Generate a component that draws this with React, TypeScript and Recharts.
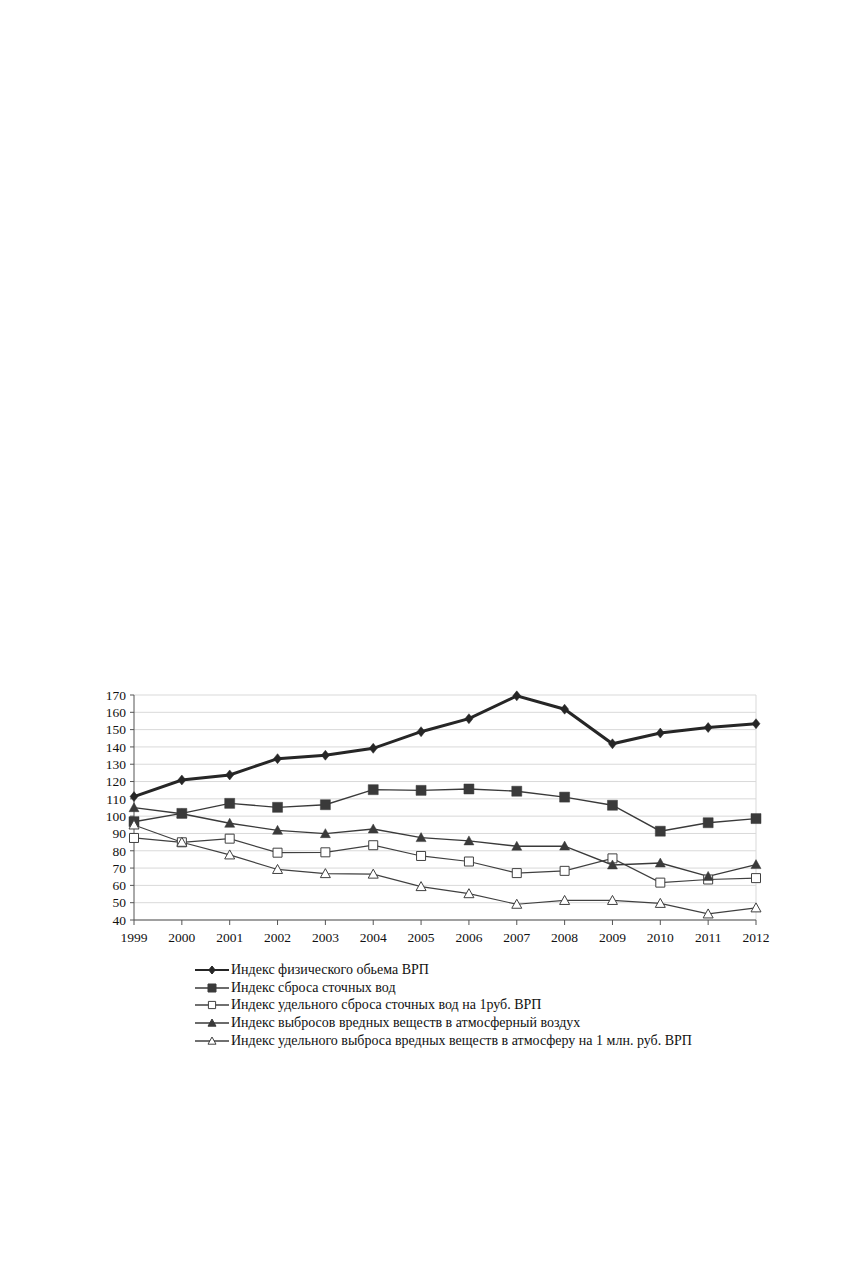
import React from 'react';
import { LineChart, Line, XAxis, YAxis, CartesianGrid, Legend } from 'recharts';

// ---- data ----
const years = ['1999', '2000', '2001', '2002', '2003', '2004', '2005', '2006', '2007', '2008', '2009', '2010', '2011', '2012'];
const grpVolume = [111.3, 120.9, 123.8, 133.2, 135.2, 139.2, 148.8, 156.3, 169.5, 161.8, 141.8, 148.0, 151.2, 153.4];
const wastewater = [96.8, 101.6, 107.4, 105.1, 106.6, 115.3, 114.9, 115.7, 114.4, 111.0, 106.3, 91.3, 96.2, 98.6];
const wastewaterPerRub = [87.4, 84.9, 87.0, 78.9, 79.1, 83.2, 77.0, 73.8, 67.1, 68.4, 75.6, 61.6, 63.4, 64.2];
const airEmissions = [104.9, 101.4, 95.9, 91.8, 89.9, 92.6, 87.6, 85.7, 82.6, 82.7, 71.8, 72.9, 65.2, 72.0];
const emissionsPerMln = [94.9, 84.9, 77.6, 69.2, 66.8, 66.5, 59.3, 55.2, 49.1, 51.3, 51.3, 49.6, 43.5, 47.0];
const yTicks = [40, 50, 60, 70, 80, 90, 100, 110, 120, 130, 140, 150, 160, 170];

const seriesNames = [
  'Индекс физического обьема ВРП',
  'Индекс сброса сточных вод',
  'Индекс удельного сброса сточных вод на 1руб. ВРП',
  'Индекс выбросов вредных веществ в атмосферный воздух',
  'Индекс удельного выброса вредных веществ в атмосферу на 1 млн. руб. ВРП',
];

const data = years.map((year, i) => ({
  year,
  grp: grpVolume[i],
  ww: wastewater[i],
  wwRub: wastewaterPerRub[i],
  air: airEmissions[i],
  airMln: emissionsPerMln[i],
}));

type Shape = 'diamond' | 'square' | 'openSquare' | 'triangle' | 'openTriangle';

const series: Array<{ key: string; name: string; shape: Shape; color: string; width: number }> = [
  { key: 'grp', name: seriesNames[0], shape: 'diamond', color: '#262626', width: 3 },
  { key: 'ww', name: seriesNames[1], shape: 'square', color: '#3a3a3a', width: 1.4 },
  { key: 'wwRub', name: seriesNames[2], shape: 'openSquare', color: '#404040', width: 1.2 },
  { key: 'air', name: seriesNames[3], shape: 'triangle', color: '#3a3a3a', width: 1.4 },
  { key: 'airMln', name: seriesNames[4], shape: 'openTriangle', color: '#404040', width: 1.2 },
];

const FONT = '"Liberation Serif", Tinos, "DejaVu Serif", "Times New Roman", serif';

// marker drawn at (cx, cy)
const markerPath = (shape: Shape, cx: number, cy: number, k = 1) => {
  switch (shape) {
    case 'diamond':
      return `M${cx},${cy - 5 * k}L${cx + 4 * k},${cy}L${cx},${cy + 5 * k}L${cx - 4 * k},${cy}Z`;
    case 'square':
      return `M${cx - 5 * k},${cy - 5 * k}h${10 * k}v${10 * k}h${-10 * k}Z`;
    case 'openSquare':
      return `M${cx - 4.5 * k},${cy - 4.5 * k}h${9 * k}v${9 * k}h${-9 * k}Z`;
    default:
      return `M${cx},${cy - 5 * k}L${cx + 5 * k},${cy + 4 * k}L${cx - 5 * k},${cy + 4 * k}Z`;
  }
};

const isOpen = (shape: Shape) => shape === 'openSquare' || shape === 'openTriangle';

const makeDot = (shape: Shape, color: string) => (props: any) => {
  const { cx, cy, index } = props;
  if (cx == null || cy == null) return <g key={`e-${index}`} />;
  return (
    <path
      key={`${shape}-${index}`}
      d={markerPath(shape, cx, cy)}
      fill={isOpen(shape) ? '#ffffff' : color}
      stroke={color}
      strokeWidth={isOpen(shape) ? 1 : 0.5}
    />
  );
};

const orderOf = (key: string) => series.findIndex((s) => s.key === key);

const LegendContent = ({ payload }: any) => {
  const items = [...(payload || [])].sort((a: any, b: any) => orderOf(a.dataKey) - orderOf(b.dataKey));
  return (
    <div style={{ fontFamily: FONT, fontSize: 14, color: '#111' }}>
      {items.map((entry: any) => {
        const s = series[orderOf(entry.dataKey)] || series[0];
        return (
          <div key={s.key} style={{ display: 'flex', alignItems: 'center', height: 17.8, whiteSpace: 'nowrap' }}>
            <svg width={34} height={12} style={{ marginRight: 2 }}>
              <line x1={0} y1={6} x2={34} y2={6} stroke={s.color} strokeWidth={s.key === 'grp' ? 2.2 : 1.4} />
              <path
                d={markerPath(s.shape, 17, 6, 0.8)}
                fill={isOpen(s.shape) ? '#ffffff' : s.color}
                stroke={s.color}
                strokeWidth={1}
              />
            </svg>
            <span>{entry.value}</span>
          </div>
        );
      })}
    </div>
  );
};

export default function App() {
  return (
    <div style={{ paddingTop: 672 }}>
      <LineChart
        width={780}
        height={380}
        data={data}
        margin={{ top: 15, right: 32, left: 0, bottom: 110 }}
      >
        <CartesianGrid
          stroke="#d9d9d9"
          strokeWidth={1}
          vertical
          verticalCoordinatesGenerator={({ offset }: any) => [offset.left + offset.width]}
        />
        <XAxis
          dataKey="year"
          stroke="#555"
          tickSize={5}
          tickMargin={7}
          height={30}
          interval={0}
          tick={{ fill: '#111', fontSize: 13.5, fontFamily: FONT }}
        />
        <YAxis
          domain={[40, 170]}
          ticks={yTicks}
          interval={0}
          stroke="#555"
          width={126}
          tickSize={4}
          tickMargin={4}
          tick={{ fill: '#111', fontSize: 13.5, fontFamily: FONT }}
        />
        <Legend
          layout="vertical"
          align="center"
          verticalAlign="middle"
          wrapperStyle={{ top: 281, left: 187, width: 600 }}
          content={<LegendContent />}
        />
        {series.map((s) => (
          <Line
            key={s.key}
            type="linear"
            dataKey={s.key}
            name={s.name}
            stroke={s.color}
            strokeWidth={s.width}
            dot={makeDot(s.shape, s.color)}
            activeDot={false}
            isAnimationActive={false}
          />
        ))}
      </LineChart>
    </div>
  );
}
